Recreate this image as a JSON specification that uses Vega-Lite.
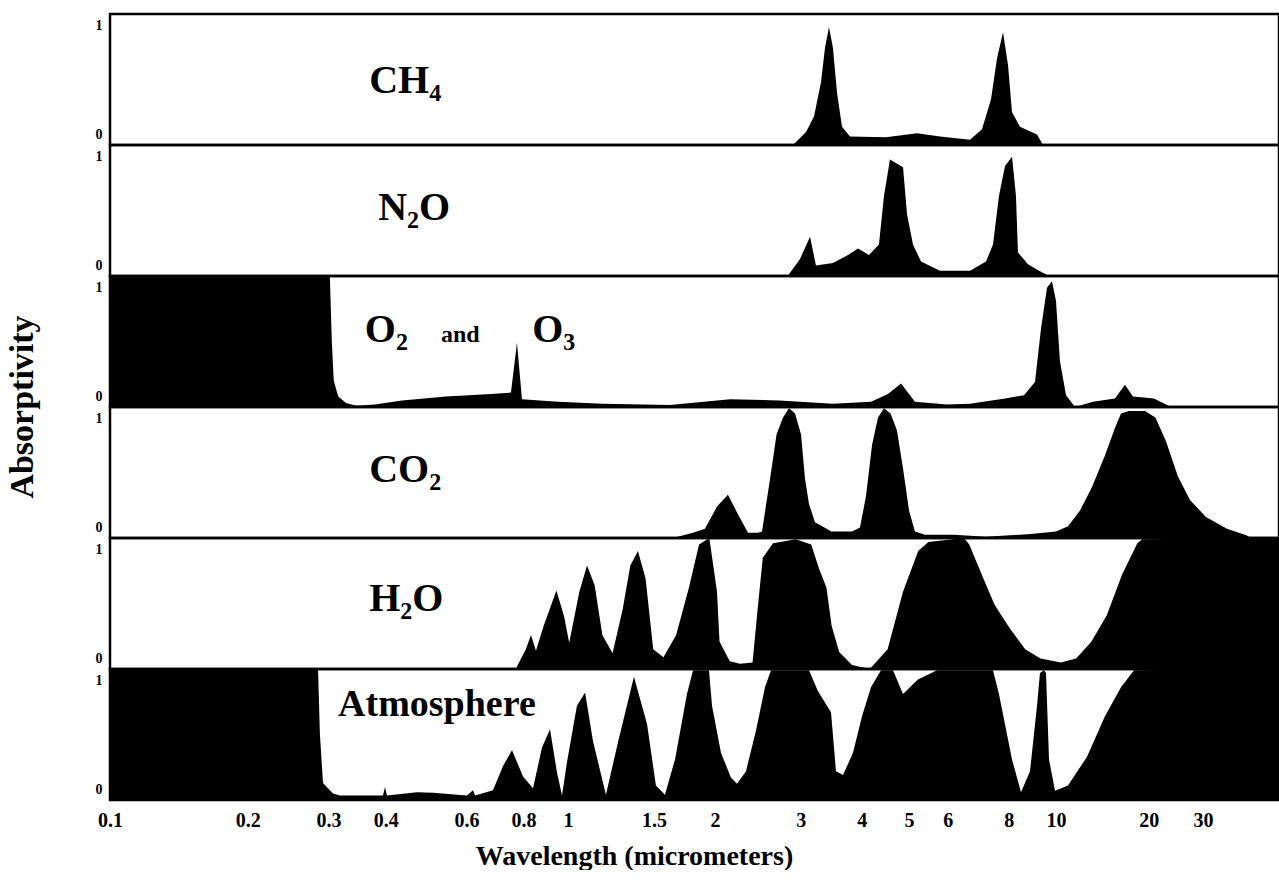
{
  "$schema": "https://vega.github.io/schema/vega-lite/v6.json",
  "background": "white",
  "padding": {"left": 5, "top": 12, "right": 0, "bottom": 0},
  "bounds": "flush",
  "config": {"view": {"stroke": "black", "strokeWidth": 2.5}, "font": "Liberation Serif", "facet": {"spacing": 0}},
  "datasets": {
    "spec": [
      {"p":"CH4","w":2.891,"a":0},{"p":"CH4","w":3.075,"a":0.10},{"p":"CH4","w":3.193,"a":0.22},{"p":"CH4","w":3.300,"a":0.48},{"p":"CH4","w":3.362,"a":0.74},{"p":"CH4","w":3.426,"a":0.90},{"p":"CH4","w":3.491,"a":0.74},{"p":"CH4","w":3.558,"a":0.40},{"p":"CH4","w":3.643,"a":0.14},{"p":"CH4","w":3.783,"a":0.065},{"p":"CH4","w":4.483,"a":0.06},{"p":"CH4","w":5.190,"a":0.09},{"p":"CH4","w":5.783,"a":0.065},{"p":"CH4","w":6.665,"a":0.04},{"p":"CH4","w":7.053,"a":0.12},{"p":"CH4","w":7.360,"a":0.35},{"p":"CH4","w":7.570,"a":0.66},{"p":"CH4","w":7.788,"a":0.86},{"p":"CH4","w":7.974,"a":0.61},{"p":"CH4","w":8.126,"a":0.25},{"p":"CH4","w":8.437,"a":0.14},{"p":"CH4","w":9.143,"a":0.08},{"p":"CH4","w":9.406,"a":0},

      {"p":"N2O","w":2.82,"a":0},{"p":"N2O","w":2.988,"a":0.13},{"p":"N2O","w":3.133,"a":0.30},{"p":"N2O","w":3.222,"a":0.08},{"p":"N2O","w":3.491,"a":0.10},{"p":"N2O","w":3.748,"a":0.16},{"p":"N2O","w":3.929,"a":0.21},{"p":"N2O","w":4.138,"a":0.16},{"p":"N2O","w":4.337,"a":0.24},{"p":"N2O","w":4.441,"a":0.61},{"p":"N2O","w":4.568,"a":0.89},{"p":"N2O","w":4.859,"a":0.83},{"p":"N2O","w":4.952,"a":0.47},{"p":"N2O","w":5.093,"a":0.24},{"p":"N2O","w":5.289,"a":0.11},{"p":"N2O","w":5.783,"a":0.04},{"p":"N2O","w":6.665,"a":0.04},{"p":"N2O","w":7.188,"a":0.11},{"p":"N2O","w":7.428,"a":0.24},{"p":"N2O","w":7.640,"a":0.61},{"p":"N2O","w":7.862,"a":0.84},{"p":"N2O","w":8.126,"a":0.91},{"p":"N2O","w":8.279,"a":0.61},{"p":"N2O","w":8.357,"a":0.18},{"p":"N2O","w":8.762,"a":0.09},{"p":"N2O","w":9.231,"a":0.04},{"p":"N2O","w":9.676,"a":0},

      {"p":"O2O3","w":0.1,"a":1},{"p":"O2O3","w":0.302,"a":1},{"p":"O2O3","w":0.305,"a":0.5},{"p":"O2O3","w":0.308,"a":0.2},{"p":"O2O3","w":0.315,"a":0.08},{"p":"O2O3","w":0.3276,"a":0.03},{"p":"O2O3","w":0.345,"a":0.01},{"p":"O2O3","w":0.379,"a":0.02},{"p":"O2O3","w":0.4341,"a":0.05},{"p":"O2O3","w":0.5415,"a":0.08},{"p":"O2O3","w":0.679,"a":0.10},{"p":"O2O3","w":0.7507,"a":0.11},{"p":"O2O3","w":0.7737,"a":0.49},{"p":"O2O3","w":0.7934,"a":0.06},{"p":"O2O3","w":0.951,"a":0.04},{"p":"O2O3","w":1.179,"a":0.025},{"p":"O2O3","w":1.618,"a":0.015},{"p":"O2O3","w":2.148,"a":0.06},{"p":"O2O3","w":2.706,"a":0.05},{"p":"O2O3","w":3.491,"a":0.025},{"p":"O2O3","w":4.177,"a":0.04},{"p":"O2O3","w":4.526,"a":0.10},{"p":"O2O3","w":4.813,"a":0.18},{"p":"O2O3","w":4.998,"a":0.10},{"p":"O2O3","w":5.140,"a":0.04},{"p":"O2O3","w":5.977,"a":0.02},{"p":"O2O3","w":6.665,"a":0.025},{"p":"O2O3","w":7.862,"a":0.065},{"p":"O2O3","w":8.599,"a":0.09},{"p":"O2O3","w":9.057,"a":0.19},{"p":"O2O3","w":9.317,"a":0.60},{"p":"O2O3","w":9.585,"a":0.91},{"p":"O2O3","w":9.813,"a":0.96},{"p":"O2O3","w":10.0,"a":0.81},{"p":"O2O3","w":10.30,"a":0.35},{"p":"O2O3","w":10.78,"a":0.09},{"p":"O2O3","w":11.53,"a":0},{"p":"O2O3","w":13.19,"a":0.04},{"p":"O2O3","w":15.54,"a":0.065},{"p":"O2O3","w":16.75,"a":0.17},{"p":"O2O3","w":17.78,"a":0.08},{"p":"O2O3","w":20.80,"a":0.065},{"p":"O2O3","w":23.63,"a":0},

      {"p":"CO2","w":1.641,"a":0},{"p":"CO2","w":1.804,"a":0.04},{"p":"CO2","w":1.908,"a":0.07},{"p":"CO2","w":2.020,"a":0.24},{"p":"CO2","w":2.127,"a":0.33},{"p":"CO2","w":2.231,"a":0.18},{"p":"CO2","w":2.338,"a":0.04},{"p":"CO2","w":2.451,"a":0.04},{"p":"CO2","w":2.498,"a":0.05},{"p":"CO2","w":2.594,"a":0.45},{"p":"CO2","w":2.675,"a":0.79},{"p":"CO2","w":2.758,"a":0.92},{"p":"CO2","w":2.837,"a":0.99},{"p":"CO2","w":2.919,"a":0.95},{"p":"CO2","w":3.003,"a":0.79},{"p":"CO2","w":3.060,"a":0.45},{"p":"CO2","w":3.118,"a":0.26},{"p":"CO2","w":3.207,"a":0.12},{"p":"CO2","w":3.467,"a":0.05},{"p":"CO2","w":3.819,"a":0.05},{"p":"CO2","w":3.966,"a":0.08},{"p":"CO2","w":4.080,"a":0.32},{"p":"CO2","w":4.198,"a":0.71},{"p":"CO2","w":4.318,"a":0.92},{"p":"CO2","w":4.441,"a":0.99},{"p":"CO2","w":4.581,"a":0.95},{"p":"CO2","w":4.722,"a":0.82},{"p":"CO2","w":4.859,"a":0.53},{"p":"CO2","w":4.998,"a":0.21},{"p":"CO2","w":5.140,"a":0.05},{"p":"CO2","w":5.388,"a":0.025},{"p":"CO2","w":6.180,"a":0.025},{"p":"CO2","w":7.188,"a":0.01},{"p":"CO2","w":8.887,"a":0.03},{"p":"CO2","w":10.0,"a":0.05},{"p":"CO2","w":10.94,"a":0.09},{"p":"CO2","w":11.97,"a":0.21},{"p":"CO2","w":13.09,"a":0.39},{"p":"CO2","w":14.42,"a":0.63},{"p":"CO2","w":15.54,"a":0.84},{"p":"CO2","w":16.26,"a":0.95},{"p":"CO2","w":17.26,"a":0.97},{"p":"CO2","w":19.46,"a":0.97},{"p":"CO2","w":21.03,"a":0.92},{"p":"CO2","w":22.75,"a":0.74},{"p":"CO2","w":24.89,"a":0.47},{"p":"CO2","w":27.24,"a":0.29},{"p":"CO2","w":30.69,"a":0.16},{"p":"CO2","w":35.92,"a":0.07},{"p":"CO2","w":41.7,"a":0.02},{"p":"CO2","w":42.96,"a":0},

      {"p":"H2O","w":0.7688,"a":0},{"p":"H2O","w":0.809,"a":0.15},{"p":"H2O","w":0.8302,"a":0.26},{"p":"H2O","w":0.8512,"a":0.14},{"p":"H2O","w":0.885,"a":0.33},{"p":"H2O","w":0.9434,"a":0.60},{"p":"H2O","w":0.9806,"a":0.40},{"p":"H2O","w":1.0057,"a":0.20},{"p":"H2O","w":1.055,"a":0.59},{"p":"H2O","w":1.094,"a":0.79},{"p":"H2O","w":1.134,"a":0.64},{"p":"H2O","w":1.176,"a":0.26},{"p":"H2O","w":1.234,"a":0.12},{"p":"H2O","w":1.295,"a":0.46},{"p":"H2O","w":1.342,"a":0.79},{"p":"H2O","w":1.391,"a":0.90},{"p":"H2O","w":1.442,"a":0.69},{"p":"H2O","w":1.495,"a":0.15},{"p":"H2O","w":1.569,"a":0.09},{"p":"H2O","w":1.666,"a":0.26},{"p":"H2O","w":1.769,"a":0.62},{"p":"H2O","w":1.856,"a":0.95},{"p":"H2O","w":1.948,"a":1.0},{"p":"H2O","w":2.020,"a":0.59},{"p":"H2O","w":2.044,"a":0.21},{"p":"H2O","w":2.145,"a":0.06},{"p":"H2O","w":2.251,"a":0.04},{"p":"H2O","w":2.389,"a":0.05},{"p":"H2O","w":2.447,"a":0.46},{"p":"H2O","w":2.507,"a":0.85},{"p":"H2O","w":2.631,"a":0.96},{"p":"H2O","w":2.931,"a":0.99},{"p":"H2O","w":3.150,"a":0.95},{"p":"H2O","w":3.267,"a":0.77},{"p":"H2O","w":3.386,"a":0.62},{"p":"H2O","w":3.469,"a":0.33},{"p":"H2O","w":3.595,"a":0.13},{"p":"H2O","w":3.819,"a":0.03},{"p":"H2O","w":4.154,"a":0},{"p":"H2O","w":4.518,"a":0.15},{"p":"H2O","w":4.858,"a":0.59},{"p":"H2O","w":5.220,"a":0.90},{"p":"H2O","w":5.477,"a":0.97},{"p":"H2O","w":6.48,"a":1.0},{"p":"H2O","w":6.64,"a":0.95},{"p":"H2O","w":7.138,"a":0.67},{"p":"H2O","w":7.484,"a":0.49},{"p":"H2O","w":8.045,"a":0.31},{"p":"H2O","w":8.648,"a":0.15},{"p":"H2O","w":9.294,"a":0.08},{"p":"H2O","w":10.37,"a":0.05},{"p":"H2O","w":11.63,"a":0.08},{"p":"H2O","w":13.04,"a":0.21},{"p":"H2O","w":14.62,"a":0.41},{"p":"H2O","w":16.38,"a":0.72},{"p":"H2O","w":18.37,"a":0.96},{"p":"H2O","w":19.07,"a":0.99},{"p":"H2O","w":53,"a":1},

      {"p":"Atm","w":0.1,"a":1},{"p":"Atm","w":0.2846,"a":1},{"p":"Atm","w":0.2873,"a":0.5},{"p":"Atm","w":0.2918,"a":0.13},{"p":"Atm","w":0.3069,"a":0.05},{"p":"Atm","w":0.3178,"a":0.035},{"p":"Atm","w":0.364,"a":0.035},{"p":"Atm","w":0.3945,"a":0.035},{"p":"Atm","w":0.3985,"a":0.10},{"p":"Atm","w":0.4025,"a":0.035},{"p":"Atm","w":0.4681,"a":0.06},{"p":"Atm","w":0.5073,"a":0.055},{"p":"Atm","w":0.6018,"a":0.035},{"p":"Atm","w":0.6203,"a":0.075},{"p":"Atm","w":0.6266,"a":0.035},{"p":"Atm","w":0.6859,"a":0.075},{"p":"Atm","w":0.7214,"a":0.26},{"p":"Atm","w":0.7547,"a":0.38},{"p":"Atm","w":0.7976,"a":0.18},{"p":"Atm","w":0.8387,"a":0.09},{"p":"Atm","w":0.8774,"a":0.40},{"p":"Atm","w":0.9135,"a":0.54},{"p":"Atm","w":0.9462,"a":0.21},{"p":"Atm","w":0.9703,"a":0.035},{"p":"Atm","w":0.995,"a":0.29},{"p":"Atm","w":1.043,"a":0.72},{"p":"Atm","w":1.084,"a":0.82},{"p":"Atm","w":1.125,"a":0.45},{"p":"Atm","w":1.196,"a":0.04},{"p":"Atm","w":1.266,"a":0.44},{"p":"Atm","w":1.365,"a":0.94},{"p":"Atm","w":1.452,"a":0.58},{"p":"Atm","w":1.514,"a":0.11},{"p":"Atm","w":1.58,"a":0.04},{"p":"Atm","w":1.657,"a":0.31},{"p":"Atm","w":1.753,"a":0.81},{"p":"Atm","w":1.804,"a":0.99},{"p":"Atm","w":1.945,"a":0.99},{"p":"Atm","w":1.973,"a":0.72},{"p":"Atm","w":2.058,"a":0.36},{"p":"Atm","w":2.158,"a":0.17},{"p":"Atm","w":2.22,"a":0.125},{"p":"Atm","w":2.316,"a":0.22},{"p":"Atm","w":2.428,"a":0.53},{"p":"Atm","w":2.533,"a":0.86},{"p":"Atm","w":2.606,"a":0.99},{"p":"Atm","w":3.118,"a":0.99},{"p":"Atm","w":3.253,"a":0.83},{"p":"Atm","w":3.459,"a":0.67},{"p":"Atm","w":3.541,"a":0.22},{"p":"Atm","w":3.66,"a":0.19},{"p":"Atm","w":3.837,"a":0.36},{"p":"Atm","w":4.004,"a":0.64},{"p":"Atm","w":4.177,"a":0.86},{"p":"Atm","w":4.379,"a":0.99},{"p":"Atm","w":4.634,"a":0.99},{"p":"Atm","w":4.859,"a":0.81},{"p":"Atm","w":5.214,"a":0.92},{"p":"Atm","w":5.702,"a":0.99},{"p":"Atm","w":7.428,"a":0.99},{"p":"Atm","w":7.64,"a":0.81},{"p":"Atm","w":8.126,"a":0.31},{"p":"Atm","w":8.478,"a":0.06},{"p":"Atm","w":8.845,"a":0.22},{"p":"Atm","w":9.143,"a":0.72},{"p":"Atm","w":9.272,"a":0.97},{"p":"Atm","w":9.45,"a":0.99},{"p":"Atm","w":9.539,"a":0.97},{"p":"Atm","w":9.676,"a":0.31},{"p":"Atm","w":9.954,"a":0.07},{"p":"Atm","w":10.94,"a":0.11},{"p":"Atm","w":12.61,"a":0.33},{"p":"Atm","w":14.42,"a":0.64},{"p":"Atm","w":16.26,"a":0.86},{"p":"Atm","w":17.92,"a":0.99},{"p":"Atm","w":53,"a":1},

      {"p":"CH4","t":"CH₄","w":0.368,"a":0.40},
      {"p":"N2O","t":"N₂O","w":0.385,"a":0.43},
      {"p":"O2O3","t":"O₂","w":0.360,"a":0.50},
      {"p":"O2O3","t":"and","w":0.528,"a":0.50},
      {"p":"O2O3","t":"O₃","w":0.835,"a":0.50},
      {"p":"CO2","t":"CO₂","w":0.368,"a":0.43},
      {"p":"H2O","t":"H₂O","w":0.368,"a":0.44},
      {"p":"Atm","t":"Atmosphere","w":0.3147,"a":0.64}
    ]
  },
  "data": {"name": "spec"},
  "spacing": 0,
  "facet": {
    "row": {
      "field": "p", "type": "nominal",
      "sort": ["CH4","N2O","O2O3","CO2","H2O","Atm"],
      "header": {"labels": false, "title": "Absorptivity", "titleFont": "Liberation Serif", "titleFontSize": 34, "titleFontWeight": "bold", "titleColor": "black", "titlePadding": 45}
    }
  },
  "spec": {
    "width": 1169,
    "height": 131,
    "encoding": {
      "x": {
        "field": "w", "type": "quantitative",
        "scale": {"type": "log", "domain": [0.1, 1, 10, 53], "range": [0, 458, 946, 1169], "nice": false, "clamp": true},
        "axis": {
          "values": [0.1,0.2,0.3,0.4,0.6,0.8,1,1.5,2,3,4,5,6,8,10,20,30],
          "format": "~g",
          "title": "Wavelength (micrometers)",
          "titleFont": "Liberation Serif", "titleFontSize": 28, "titleFontWeight": "bold", "titleColor": "black",
          "titleX": 524, "titleAlign": "center", "titlePadding": 12,
          "labelFont": "Liberation Serif", "labelFontSize": 20, "labelFontWeight": "bold", "labelColor": "black",
          "labelPadding": 10, "ticks": false, "domain": false, "grid": false, "labelOverlap": false, "labelFlush": false
        }
      },
      "y": {
        "field": "a", "type": "quantitative",
        "scale": {"domain": [0, 1], "nice": false},
        "axis": {
          "values": [0, 1], "format": "d", "title": null, "ticks": false, "domain": false, "grid": false,
          "labelFont": "Liberation Serif", "labelFontSize": 14, "labelFontWeight": "bold", "labelColor": "black",
          "labelPadding": 8,
          "labelOffset": {"condition": {"test": "datum.value == 0", "value": -11}, "value": 11}
        }
      }
    },
    "layer": [
      {
        "transform": [{"filter": "!datum.t"}],
        "mark": {"type": "area", "color": "black", "interpolate": "linear"}
      },
      {
        "transform": [{"filter": "datum.t"}],
        "mark": {"type": "text", "align": "left", "baseline": "alphabetic", "font": "Liberation Serif", "fontWeight": "bold", "color": "black"},
        "encoding": {
          "text": {"field": "t"},
          "size": {"condition": [{"test": "datum.t === 'and'", "value": 24}, {"test": "datum.t === 'Atmosphere'", "value": 38}], "value": 40}
        }
      }
    ]
  }
}
